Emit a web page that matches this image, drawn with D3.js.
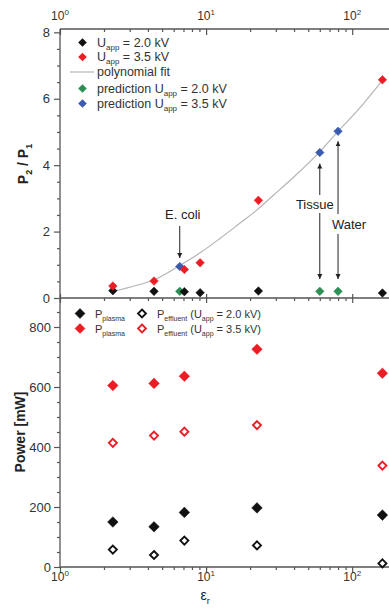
<!DOCTYPE html>
<html><head><meta charset="utf-8">
<script src="https://cdn.jsdelivr.net/npm/d3@7"></script>
<style>
html,body{margin:0;padding:0;background:#fff;}
svg{display:block;font-family:"Liberation Sans",Arial,sans-serif;}
</style></head>
<body>
<svg id="chart" width="389" height="608"></svg>
<script>
// ---------- data ----------
const epsTop = [2.3, 4.4, 7.1, 9.1, 22.8, 161];
const ratio20 = [0.22, 0.2, 0.19, 0.16, 0.21, 0.15];
const ratio35 = [0.36, 0.51, 0.86, 1.06, 2.94, 6.57];
const epsPred = [6.6, 60, 80];
const predLabels = ["E. coli", "Tissue", "Water"];
const pred20 = [0.2, 0.2, 0.2];
const pred35 = [0.95, 4.38, 5.02];
const fitEps = [2.3, 4.4, 6.6, 9.1, 12.5, 17, 22, 29, 40, 59, 80, 110, 162];
const fitVal = [0.2, 0.55, 0.98, 1.36, 1.8, 2.25, 2.63, 3.1, 3.65, 4.37, 5.02, 5.67, 6.57];

const epsBot = [2.3, 4.4, 7.1, 22.3, 161];
const plasma20 = [150, 134, 182, 197, 173];
const plasma35 = [605, 612, 636, 726, 646];
const effluent20 = [58, 40, 88, 72, 12];
const effluent35 = [414, 438, 451, 473, 338];

const xMajor = [1, 10, 100];
const xMajorExp = ["0", "1", "2"];
const yTopTicks = [0, 2, 4, 6, 8];
const yBotTicks = [0, 200, 400, 600, 800];

// ---------- setup ----------
const svg = d3.select("#chart");
const RED = "#ec1c24", BLUE = "#3b5cae", GREEN = "#2e8f55", BLACK = "#111", AX = "#555", TXT = "#333";
const left = 60, right = 389.5, topY = 29, midY = 298, botY = 567;

const x = d3.scaleLog().domain([1, 180]).range([left, right]);
const yT = d3.scaleLinear().domain([0, 8.1]).range([midY, topY]);
const yB = d3.scaleLinear().domain([0, 900]).range([botY, midY - 1]);

const xMinor = [];
[1, 10, 100].forEach(d => { for (let k = 2; k <= 9; k++) if (d * k <= 180) xMinor.push(d * k); });
const yTopMinor = d3.range(0, 8.01, 0.5).filter(v => v % 2 !== 0);
const yBotMinor = d3.range(0, 851, 50).filter(v => v % 200 !== 0);

function diamond(r) { return `M0,${-r}L${r},0L0,${r}L${-r},0Z`; }

function styleAxis(g) {
  g.select(".domain").remove();
  g.selectAll(".tick line").attr("stroke", AX).attr("stroke-width", 1.2);
  g.selectAll(".tick text").attr("fill", TXT);
}

// ---------- axes ----------
const gl1 = svg.append("g").attr("transform", `translate(${left},0)`)
  .call(d3.axisLeft(yT).tickValues(yTopMinor).tickSize(3).tickFormat(""));
styleAxis(gl1);
const gl2 = svg.append("g").attr("transform", `translate(${left},0)`)
  .call(d3.axisLeft(yT).tickValues(yTopTicks).tickSize(6).tickPadding(4).tickFormat(d3.format("d")));
styleAxis(gl2); gl2.selectAll("text").attr("font-size", 13);
const gl3 = svg.append("g").attr("transform", `translate(${left},0)`)
  .call(d3.axisLeft(yB).tickValues(yBotMinor).tickSize(3).tickFormat(""));
styleAxis(gl3);
const gl4 = svg.append("g").attr("transform", `translate(${left},0)`)
  .call(d3.axisLeft(yB).tickValues(yBotTicks).tickSize(6).tickPadding(3).tickFormat(d3.format("d")));
styleAxis(gl4); gl4.selectAll("text").attr("font-size", 13);

const gt1 = svg.append("g").attr("transform", `translate(0,${topY})`)
  .call(d3.axisBottom(x).tickValues(xMinor).tickSize(3).tickFormat(""));
styleAxis(gt1);
const gt2 = svg.append("g").attr("transform", `translate(0,${topY})`)
  .call(d3.axisBottom(x).tickValues(xMajor).tickSize(6).tickFormat(""));
styleAxis(gt2);
const gm1 = svg.append("g").attr("transform", `translate(0,${midY})`)
  .call(d3.axisBottom(x).tickValues(xMinor).tickSize(3).tickFormat(""));
styleAxis(gm1);
const gm2 = svg.append("g").attr("transform", `translate(0,${midY - 4})`)
  .call(d3.axisBottom(x).tickValues(xMajor).tickSize(9).tickFormat(""));
styleAxis(gm2);
const gb1 = svg.append("g").attr("transform", `translate(0,${botY})`)
  .call(d3.axisBottom(x).tickValues(xMinor).tickSize(3).tickFormat(""));
styleAxis(gb1);
const gb2 = svg.append("g").attr("transform", `translate(0,${botY})`)
  .call(d3.axisBottom(x).tickValues(xMajor).tickSize(6).tickFormat(""));
styleAxis(gb2);

svg.append("line").attr("x1", left).attr("x2", right).attr("y1", topY).attr("y2", topY).attr("stroke", AX).attr("stroke-width", 1.3);
svg.append("line").attr("x1", left).attr("x2", right).attr("y1", midY).attr("y2", midY).attr("stroke", AX).attr("stroke-width", 1.3);
svg.append("line").attr("x1", left).attr("x2", right).attr("y1", botY).attr("y2", botY).attr("stroke", AX).attr("stroke-width", 1.3);
svg.append("line").attr("x1", left).attr("x2", left).attr("y1", topY).attr("y2", botY).attr("stroke", AX).attr("stroke-width", 1.3);

function powLabels(yBase) {
  xMajor.forEach((v, i) => {
    const t = svg.append("text").attr("x", x(v)).attr("y", yBase).attr("text-anchor", "middle")
      .attr("font-size", 12).attr("fill", TXT);
    t.append("tspan").text("10");
    t.append("tspan").attr("font-size", 8).attr("dy", -5).text(xMajorExp[i]);
  });
}
powLabels(20);
powLabels(581);

svg.append("text").attr("transform", "translate(28,164) rotate(-90)").attr("text-anchor", "middle")
  .attr("font-size", 14).attr("font-weight", "bold").attr("fill", "#222")
  .call(t => {
    t.append("tspan").text("P");
    t.append("tspan").attr("font-size", 9).attr("dy", 4).text("2");
    t.append("tspan").attr("dy", -4).text(" / P");
    t.append("tspan").attr("font-size", 9).attr("dy", 4).text("1");
  });
svg.append("text").attr("transform", "translate(25,432) rotate(-90)").attr("text-anchor", "middle")
  .attr("font-size", 14).attr("font-weight", "bold").attr("fill", "#222").text("Power [mW]");
svg.append("text").attr("x", 205).attr("y", 600).attr("text-anchor", "middle").attr("font-size", 14).attr("fill", "#222")
  .call(t => {
    t.append("tspan").text("ε");
    t.append("tspan").attr("font-size", 9).attr("dy", 4).text("r");
  });

// ---------- top panel ----------
const line = d3.line().x(d => x(d[0])).y(d => yT(d[1])).curve(d3.curveCatmullRom.alpha(0.5));
svg.append("path").datum(fitEps.map((e, i) => [e, fitVal[i]])).attr("d", line)
  .attr("fill", "none").attr("stroke", "#b5b5b5").attr("stroke-width", 1.2);

function pts(g, xs, ys, yScale, r, color, open) {
  g.selectAll(null).data(xs.map((e, i) => [e, ys[i]])).join("path")
    .attr("transform", d => `translate(${x(d[0])},${yScale(d[1])})`)
    .attr("d", diamond(r))
    .attr("fill", open ? "none" : color)
    .attr("stroke", color).attr("stroke-width", open ? 1.9 : 0.5);
}
const gTop = svg.append("g");
pts(gTop, epsPred, pred20, yT, 4.3, GREEN);
pts(gTop, epsPred, pred35, yT, 4.3, BLUE);
pts(gTop, epsTop, ratio20, yT, 4.3, BLACK);
pts(gTop, epsTop, ratio35, yT, 4.3, RED);

const defs = svg.append("defs");
defs.append("marker").attr("id", "arr").attr("viewBox", "0 0 10 10").attr("refX", 10).attr("refY", 5)
  .attr("markerWidth", 5).attr("markerHeight", 6).attr("markerUnits", "userSpaceOnUse").attr("orient", "auto")
  .append("path").attr("d", "M0,0L10,5L0,10Z").attr("fill", "#222");
function arrow(xv, y1, y2) {
  svg.append("line").attr("x1", x(xv)).attr("x2", x(xv)).attr("y1", y1).attr("y2", y2)
    .attr("stroke", "#222").attr("stroke-width", 1).attr("marker-end", "url(#arr)");
}
function label(xpos, ypos, txt) {
  svg.append("text").attr("x", xpos).attr("y", ypos).attr("text-anchor", "middle")
    .attr("font-size", 13).attr("fill", "#222").text(txt);
}
label(x(epsPred[0]) + 3, 219, predLabels[0]);
arrow(epsPred[0], 226, 258);
label(x(epsPred[1]) - 5, 209, predLabels[1]);
arrow(epsPred[1], 195, yT(pred35[1]) + 11);
arrow(epsPred[1], 213, 279);
label(x(epsPred[2]) + 11, 229, predLabels[2]);
arrow(epsPred[2], 214, yT(pred35[2]) + 10);
arrow(epsPred[2], 234, 279);

const lg = svg.append("g").attr("font-size", 12.5).attr("fill", TXT);
const legTop = [
  {y: 42.5, c: BLACK, t: ["U", "app", " = 2.0 kV"]},
  {y: 57, c: RED, t: ["U", "app", " = 3.5 kV"]},
  {y: 72, c: null, t: ["polynomial fit"]},
  {y: 88.5, c: GREEN, t: ["prediction U", "app", " = 2.0 kV"]},
  {y: 103.5, c: BLUE, t: ["prediction U", "app", " = 3.5 kV"]}
];
legTop.forEach(d => {
  if (d.c) lg.append("path").attr("transform", `translate(82.5,${d.y})`).attr("d", diamond(4.3)).attr("fill", d.c);
  else lg.append("line").attr("x1", 70).attr("x2", 94).attr("y1", d.y).attr("y2", d.y).attr("stroke", "#b5b5b5").attr("stroke-width", 1.2);
  const t = lg.append("text").attr("x", 97).attr("y", d.y + 4);
  t.append("tspan").text(d.t[0]);
  if (d.t.length > 1) {
    t.append("tspan").attr("font-size", 8).attr("dy", 3).text(d.t[1]);
    t.append("tspan").attr("dy", -3).text(d.t[2]);
  }
});

// ---------- bottom panel ----------
const gBot = svg.append("g");
pts(gBot, epsBot, effluent35, yB, 4, RED, true);
pts(gBot, epsBot, effluent20, yB, 4, BLACK, true);
pts(gBot, epsBot, plasma35, yB, 5.3, RED);
pts(gBot, epsBot, plasma20, yB, 5.3, BLACK);

const lb = svg.append("g").attr("font-size", 11).attr("fill", TXT);
const legBot = [
  {x: 80, y: 313.5, c: BLACK, open: false, t: ["P", "plasma", ""]},
  {x: 80, y: 328.5, c: RED, open: false, t: ["P", "plasma", ""]},
  {x: 142, y: 313.5, c: BLACK, open: true, t: ["P", "effluent", " (U", "app", " = 2.0 kV)"]},
  {x: 142, y: 328.5, c: RED, open: true, t: ["P", "effluent", " (U", "app", " = 3.5 kV)"]}
];
legBot.forEach(d => {
  lb.append("path").attr("transform", `translate(${d.x},${d.y})`).attr("d", diamond(d.open ? 4 : 5))
    .attr("fill", d.open ? "none" : d.c).attr("stroke", d.c).attr("stroke-width", d.open ? 1.8 : 0.5);
  const t = lb.append("text").attr("x", d.x + 15).attr("y", d.y + 4);
  t.append("tspan").text(d.t[0]);
  t.append("tspan").attr("font-size", 7).attr("dy", 3).text(d.t[1]);
  if (d.t.length > 3) {
    t.append("tspan").attr("dy", -3).text(d.t[2]);
    t.append("tspan").attr("font-size", 7).attr("dy", 3).text(d.t[3]);
    t.append("tspan").attr("dy", -3).text(d.t[4]);
  }
});
</script>
</body></html>
